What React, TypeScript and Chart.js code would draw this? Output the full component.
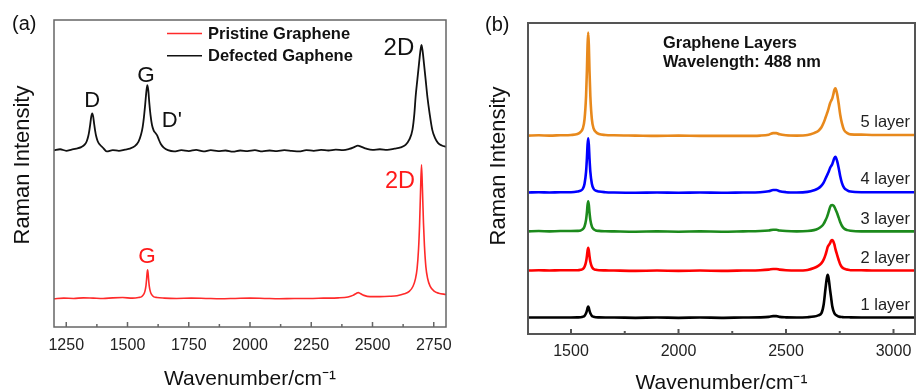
import React, { useEffect, useRef } from 'react';
import { Chart, registerables } from 'chart.js';

Chart.register(...registerables);

const FONT = '"Liberation Sans", Arial, Helvetica, sans-serif';

// ---------- Panel (a) data ----------
const leftTickLabels = [1250, 1500, 1750, 2000, 2250, 2500, 2750];
const leftMinorTicks = [1375, 1625, 1875, 2125, 2375, 2625];

const defectedX = [
  1200, 1225, 1250, 1272, 1291, 1311, 1326, 1334, 1340, 1344, 1348, 1352, 1356, 1360, 1364, 1368, 1372, 1378,
  1386, 1401, 1415, 1440, 1465, 1490, 1510, 1530, 1545, 1555, 1562, 1567, 1572, 1577, 1581, 1585, 1589, 1594,
  1600, 1607, 1614, 1621, 1628, 1636, 1648, 1665, 1690, 1720, 1750, 1780, 1810, 1840, 1870, 1900, 1930, 1960,
  1990, 2020, 2050, 2080, 2110, 2140, 2170, 2200, 2230, 2260, 2290, 2320, 2350, 2380, 2405, 2425, 2440, 2455,
  2475, 2500, 2530, 2560, 2590, 2615, 2635, 2650, 2663, 2671, 2676, 2683, 2690, 2695, 2700, 2705, 2710, 2717,
  2724, 2733, 2744, 2755, 2767, 2783, 2800,
];
const defectedY = [
  57.5, 57.9, 57.4, 57.8, 58.1, 58.6, 59.5, 60.6, 62.2, 63.9, 66.1, 68.5, 69.6, 68.5, 66.1, 63.9, 62.2, 60.6,
  59.5, 58.3, 57.2, 57.6, 57.4, 57.8, 58.1, 58.9, 60.4, 62.6, 65.2, 68.3, 72.3, 76.7, 78.8, 77.0, 73.0, 69.0,
  65.8, 64.0, 63.2, 62.4, 61.0, 59.6, 58.4, 57.6, 57.2, 57.6, 57.3, 57.7, 57.2, 57.6, 57.3, 57.5, 57.1, 57.5,
  57.3, 57.6, 57.2, 57.5, 57.3, 57.6, 57.4, 57.2, 57.6, 57.4, 57.7, 57.5, 57.8, 57.6, 58.0, 58.6, 59.1, 58.7,
  58.1, 57.7, 57.9, 57.7, 58.1, 58.5, 59.3, 61.0, 64.2, 69.6, 75.0, 80.5, 85.9, 89.6, 91.9, 89.6, 85.9, 80.5,
  75.0, 69.6, 64.2, 61.6, 60.0, 59.1, 58.7,
];

const pristineX = [
  1200, 1240, 1280, 1320, 1360, 1400, 1440, 1480, 1520, 1545, 1558, 1566, 1571, 1575, 1578, 1580, 1582, 1584,
  1586, 1589, 1593, 1598, 1606, 1620, 1650, 1700, 1760, 1820, 1880, 1940, 2000, 2060, 2120, 2180, 2240, 2300,
  2360, 2400, 2420, 2435, 2442, 2450, 2465, 2490, 2530, 2570, 2600, 2630, 2650, 2665, 2675, 2682, 2688, 2692,
  2696, 2700, 2704, 2708, 2712, 2718, 2725, 2735, 2750, 2770, 2800,
];
const pristineY = [
  9.2, 9.4, 9.3, 9.5, 9.4, 9.3, 9.5, 9.6, 9.4, 9.6, 9.9, 10.6, 11.6, 13.2, 15.6, 17.6, 18.6, 17.6,
  15.6, 13.2, 11.6, 10.6, 9.9, 9.6, 9.4, 9.3, 9.4, 9.3, 9.2, 9.3, 9.4, 9.3, 9.2, 9.3, 9.3, 9.4,
  9.5, 9.8, 10.3, 11.0, 11.2, 10.9, 10.3, 9.9, 9.9, 10.0, 10.2, 10.8, 11.6, 13.2, 15.6, 19.0, 25.5, 33.0,
  44.0, 52.8, 44.5, 34.0, 26.5, 19.5, 15.8, 13.3, 11.8, 11.0, 10.6,
];

// ---------- Panel (b) data ----------
const rightTickLabels = [1500, 2000, 2500, 3000];
const rightMinorTicks = [1750, 2250, 2750];

const layerX = [
  1300, 1350, 1400, 1450, 1500, 1530, 1545, 1555, 1563, 1570, 1574, 1577, 1580, 1583, 1586, 1590, 1597, 1605,
  1615, 1630, 1660, 1700, 1800, 1900, 2000, 2100, 2200, 2300, 2380, 2420, 2440, 2455, 2470, 2500, 2550, 2600,
  2630, 2650, 2665, 2675, 2684, 2690, 2694, 2698, 2705, 2710, 2715, 2720, 2725, 2730, 2737, 2745, 2752, 2760,
  2770, 2785, 2800, 2850, 2900, 3000, 3100,
];
const layer5Y = [
  63.8, 63.9, 63.8, 63.9, 64.0, 64.3, 65.0, 66.1, 69.1, 76.4, 84.7, 92.9, 96.9, 92.9, 84.7, 76.4, 69.1, 66.1,
  65.0, 64.3, 64.0, 63.9, 63.8, 63.7, 63.8, 63.7, 63.7, 63.7, 63.8, 64.1, 64.6, 64.6, 64.2, 63.9, 63.8, 64.0,
  64.6, 65.3, 66.5, 67.9, 69.6, 70.8, 71.6, 72.5, 74.2, 75.0, 75.7, 77.0, 78.5, 79.0, 77.4, 74.1, 70.6, 67.8,
  65.6, 64.6, 64.2, 64.1, 64.0, 64.0, 64.0,
];
const layer4Y = [
  45.5, 45.6, 45.5, 45.6, 45.6, 45.8, 46.1, 46.7, 48.3, 52.1, 56.5, 60.8, 62.9, 60.8, 56.5, 52.1, 48.3, 46.7,
  46.1, 45.8, 45.6, 45.5, 45.4, 45.5, 45.4, 45.5, 45.4, 45.5, 45.6, 45.9, 46.3, 46.3, 45.9, 45.6, 45.5, 45.7,
  46.2, 46.8, 47.7, 48.7, 50.0, 50.9, 51.5, 52.1, 53.4, 54.0, 54.6, 55.6, 56.6, 57.0, 55.8, 53.4, 50.8, 48.6,
  47.0, 46.2, 45.8, 45.6, 45.6, 45.6, 45.6,
];
const layer3Y = [
  33.0, 33.1, 33.0, 33.1, 33.1, 33.15, 33.3, 33.7, 34.6, 36.7, 39.1, 41.5, 42.7, 41.5, 39.1, 36.7, 34.6, 33.7,
  33.3, 33.15, 33.05, 33.0, 32.9, 33.0, 32.9, 33.0, 32.9, 33.0, 33.1, 33.3, 33.5, 33.5, 33.3, 33.1, 33.0, 33.1,
  33.4, 33.9, 34.6, 35.4, 36.6, 37.5, 38.3, 39.2, 40.8, 41.4, 41.5, 41.3, 40.9, 40.1, 39.0, 37.4, 36.0, 34.8,
  33.9, 33.4, 33.2, 33.0, 33.0, 33.0, 33.0,
];
const layer2Y = [
  20.4, 20.5, 20.4, 20.5, 20.5, 20.5, 20.65, 20.9, 21.6, 23.2, 25.0, 26.8, 27.7, 26.8, 25.0, 23.2, 21.6, 20.9,
  20.65, 20.5, 20.45, 20.4, 20.3, 20.4, 20.3, 20.4, 20.3, 20.4, 20.5, 20.7, 20.9, 20.9, 20.7, 20.5, 20.4, 20.6,
  21.2, 21.9, 22.8, 23.9, 25.5, 27.0, 28.0, 28.5, 29.2, 30.0, 30.2, 29.8, 28.8, 27.3, 25.6, 23.8, 22.4, 21.5,
  21.0, 20.7, 20.5, 20.5, 20.4, 20.4, 20.4,
];
const layer1Y = [
  5.3, 5.3, 5.3, 5.3, 5.3, 5.35, 5.4, 5.55, 5.85, 6.65, 7.5, 8.4, 8.8, 8.4, 7.5, 6.65, 5.85, 5.55,
  5.4, 5.35, 5.3, 5.3, 5.2, 5.3, 5.2, 5.3, 5.2, 5.3, 5.35, 5.5, 5.75, 5.75, 5.5, 5.35, 5.3, 5.4,
  5.6, 6.0, 6.7, 9.4, 14.8, 18.0, 19.0, 18.0, 14.2, 11.6, 9.0, 7.6, 6.7, 6.2, 5.9, 5.6, 5.5, 5.45,
  5.4, 5.4, 5.35, 5.3, 5.3, 5.3, 5.3,
];
const layerNames = ['1 layer', '2 layer', '3 layer', '4 layer', '5 layer'];

// ---------- helpers ----------
type TextItem = {
  text: string;
  x: number;
  y: number;
  color?: string;
  size: number;
  bold?: boolean;
  align?: CanvasTextAlign;
  data?: boolean; // x/y are data coordinates
};

type DecorCfg = {
  frameColor: string;
  frameWidth: number;
  major: number[];
  minor: number[];
  majorLen: number;
  minorLen: number;
  yTitle: { text: string; x: number; y: number; size: number };
  legend?: { color: string; label: string; y: number }[];
  legendX?: [number, number, number];
  texts: TextItem[];
};

function decorPlugin(cfg: DecorCfg) {
  return {
    id: 'decor',
    afterDraw(chart: any) {
      const { ctx, chartArea: a, scales } = chart;
      const xs = scales.x;
      const ys = scales.y;
      ctx.save();
      ctx.strokeStyle = cfg.frameColor;
      ctx.lineWidth = cfg.frameWidth;
      ctx.strokeRect(a.left, a.top, a.right - a.left, a.bottom - a.top);
      ctx.beginPath();
      cfg.major.forEach((v) => {
        const px = xs.getPixelForValue(v);
        ctx.moveTo(px, a.bottom);
        ctx.lineTo(px, a.bottom - cfg.majorLen);
      });
      cfg.minor.forEach((v) => {
        const px = xs.getPixelForValue(v);
        ctx.moveTo(px, a.bottom);
        ctx.lineTo(px, a.bottom - cfg.minorLen);
      });
      ctx.stroke();
      ctx.save();
      ctx.translate(cfg.yTitle.x, cfg.yTitle.y);
      ctx.rotate(-Math.PI / 2);
      ctx.font = `${cfg.yTitle.size}px ${FONT}`;
      ctx.fillStyle = '#111';
      ctx.textAlign = 'center';
      ctx.textBaseline = 'middle';
      ctx.fillText(cfg.yTitle.text, 0, 0);
      ctx.restore();
      if (cfg.legend && cfg.legendX) {
        const [x0, x1, tx] = cfg.legendX;
        cfg.legend.forEach((l) => {
          ctx.strokeStyle = l.color;
          ctx.lineWidth = 1.5;
          ctx.beginPath();
          ctx.moveTo(x0, l.y);
          ctx.lineTo(x1, l.y);
          ctx.stroke();
          ctx.font = `bold 16.5px ${FONT}`;
          ctx.fillStyle = '#111';
          ctx.textAlign = 'left';
          ctx.textBaseline = 'middle';
          ctx.fillText(l.label, tx, l.y + 0.5);
        });
      }
      cfg.texts.forEach((t) => {
        const px = t.data ? xs.getPixelForValue(t.x) : t.x;
        const py = t.data ? ys.getPixelForValue(t.y) : t.y;
        ctx.font = `${t.bold ? 'bold ' : ''}${t.size}px ${FONT}`;
        ctx.fillStyle = t.color || '#111';
        ctx.textAlign = t.align || 'left';
        ctx.textBaseline = 'alphabetic';
        ctx.fillText(t.text, px, py);
      });
      ctx.restore();
    },
  };
}

function xy(xs: number[], ys: number[]) {
  return xs.map((x, i) => ({ x, y: ys[i] }));
}

function baseOptions(p: {
  xmin: number;
  xmax: number;
  ticks: number[];
  padRight: number;
  padTop: number;
  yWidth: number;
  xHeight: number;
  tickPad: number;
}) {
  return {
    animation: false as const,
    responsive: false,
    maintainAspectRatio: false,
    layout: { padding: { left: 0, right: p.padRight, top: p.padTop, bottom: 0 } },
    plugins: { legend: { display: false }, tooltip: { enabled: false } },
    elements: { point: { radius: 0 } },
    scales: {
      x: {
        type: 'linear' as const,
        min: p.xmin,
        max: p.xmax,
        afterBuildTicks: (s: any) => {
          s.ticks = p.ticks.map((v) => ({ value: v }));
        },
        afterFit: (s: any) => {
          s.height = p.xHeight;
          s.paddingLeft = 0;
          s.paddingRight = 0;
        },
        grid: { display: false, drawTicks: false },
        border: { display: false },
        ticks: {
          font: { family: FONT, size: 16 },
          color: '#222',
          padding: p.tickPad,
          maxRotation: 0,
          autoSkip: false,
          callback: (v: any) => String(v),
        },
        title: {
          display: true,
          text: 'Wavenumber/cm⁻¹',
          font: { family: FONT, size: 21 },
          color: '#111',
          padding: { top: 0, bottom: 0 },
        },
      },
      y: {
        type: 'linear' as const,
        min: 0,
        max: 100,
        afterFit: (s: any) => {
          s.width = p.yWidth;
          s.paddingTop = 0;
          s.paddingBottom = 0;
        },
        ticks: { display: false },
        grid: { display: false, drawTicks: false },
        border: { display: false },
        title: { display: false },
      },
    },
  };
}

function LeftPanel() {
  const ref = useRef<HTMLCanvasElement>(null);
  useEffect(() => {
    if (!ref.current) return;
    const chart = new Chart(ref.current, {
      type: 'line',
      data: {
        datasets: [
          {
            label: 'Defected Gaphene',
            data: xy(defectedX, defectedY),
            borderColor: '#111111',
            borderWidth: 1.8,
            cubicInterpolationMode: 'monotone',
          },
          {
            label: 'Pristine Graphene',
            data: xy(pristineX, pristineY),
            borderColor: '#ff2a2a',
            borderWidth: 1.6,
            cubicInterpolationMode: 'monotone',
          },
        ],
      },
      options: baseOptions({
        xmin: 1200,
        xmax: 2800,
        ticks: leftTickLabels,
        padRight: 10,
        padTop: 20,
        yWidth: 54,
        xHeight: 65,
        tickPad: 9.4,
      }) as any,
      plugins: [
        decorPlugin({
          frameColor: '#666',
          frameWidth: 1.5,
          major: leftTickLabels,
          minor: leftMinorTicks,
          majorLen: 5,
          minorLen: 3,
          yTitle: { text: 'Raman Intensity', x: 23, y: 165, size: 22 },
          legendX: [167, 202, 208],
          legend: [
            { color: '#ff2a2a', label: 'Pristine Graphene', y: 33.5 },
            { color: '#111', label: 'Defected Gaphene', y: 55.7 },
          ],
          texts: [
            { text: '(a)', x: 12, y: 30, size: 20 },
            { text: 'D', x: 1356, y: 71.6, size: 22, align: 'center', data: true },
            { text: 'G', x: 1576, y: 79.9, size: 22.5, align: 'center', data: true },
            { text: "D'", x: 1640, y: 65.2, size: 22, align: 'left', data: true },
            { text: '2D', x: 2608, y: 88.6, size: 24, align: 'center', data: true },
            { text: '2D', x: 2612, y: 45.2, size: 23.5, align: 'center', data: true, color: '#ff1a1a' },
            { text: 'G', x: 1580, y: 20.7, size: 22.5, align: 'center', data: true, color: '#ff1a1a' },
          ],
        }) as any,
      ],
    });
    return () => chart.destroy();
  }, []);
  return <canvas ref={ref} width={456} height={392} style={{ width: 456, height: 392, display: 'block' }} />;
}

function RightPanel() {
  const ref = useRef<HTMLCanvasElement>(null);
  useEffect(() => {
    if (!ref.current) return;
    const series = [layer1Y, layer2Y, layer3Y, layer4Y, layer5Y];
    const colors = ['#000000', '#ff0000', '#1c8a1c', '#0000ff', '#e8891c'];
    const chart = new Chart(ref.current, {
      type: 'line',
      data: {
        datasets: series.map((ys, i) => ({
          label: layerNames[i],
          data: xy(layerX, ys),
          borderColor: colors[i],
          borderWidth: 2.6,
          cubicInterpolationMode: 'monotone' as const,
        })),
      },
      options: baseOptions({
        xmin: 1300,
        xmax: 3100,
        ticks: rightTickLabels,
        padRight: 1,
        padTop: 23,
        yWidth: 72,
        xHeight: 62,
        tickPad: 8.4,
      }) as any,
      plugins: [
        decorPlugin({
          frameColor: '#555',
          frameWidth: 2,
          major: rightTickLabels,
          minor: rightMinorTicks,
          majorLen: 5,
          minorLen: 3,
          yTitle: { text: 'Raman Intensity', x: 43, y: 166, size: 22 },
          texts: [
            { text: '(b)', x: 29, y: 31, size: 20 },
            { text: 'Graphene Layers', x: 207, y: 47.5, size: 16.4, bold: true },
            { text: 'Wavelength: 488 nm', x: 207, y: 67, size: 16.4, bold: true },
            { text: layerNames[4], x: 454, y: 127, size: 16.5, align: 'right', color: '#222' },
            { text: layerNames[3], x: 454, y: 184, size: 16.5, align: 'right', color: '#222' },
            { text: layerNames[2], x: 454, y: 224, size: 16.5, align: 'right', color: '#222' },
            { text: layerNames[1], x: 454, y: 263, size: 16.5, align: 'right', color: '#222' },
            { text: layerNames[0], x: 454, y: 310, size: 16.5, align: 'right', color: '#222' },
          ],
        }) as any,
      ],
    });
    return () => chart.destroy();
  }, []);
  return <canvas ref={ref} width={460} height={396} style={{ width: 460, height: 396, display: 'block' }} />;
}

export default function App() {
  return (
    <div style={{ position: 'fixed', left: 0, top: 0, width: 916, height: 392, overflow: 'hidden', background: '#fff' }}>
      <div style={{ position: 'absolute', left: 0, top: 0 }}>
        <LeftPanel />
      </div>
      <div style={{ position: 'absolute', left: 456, top: 0 }}>
        <RightPanel />
      </div>
    </div>
  );
}
